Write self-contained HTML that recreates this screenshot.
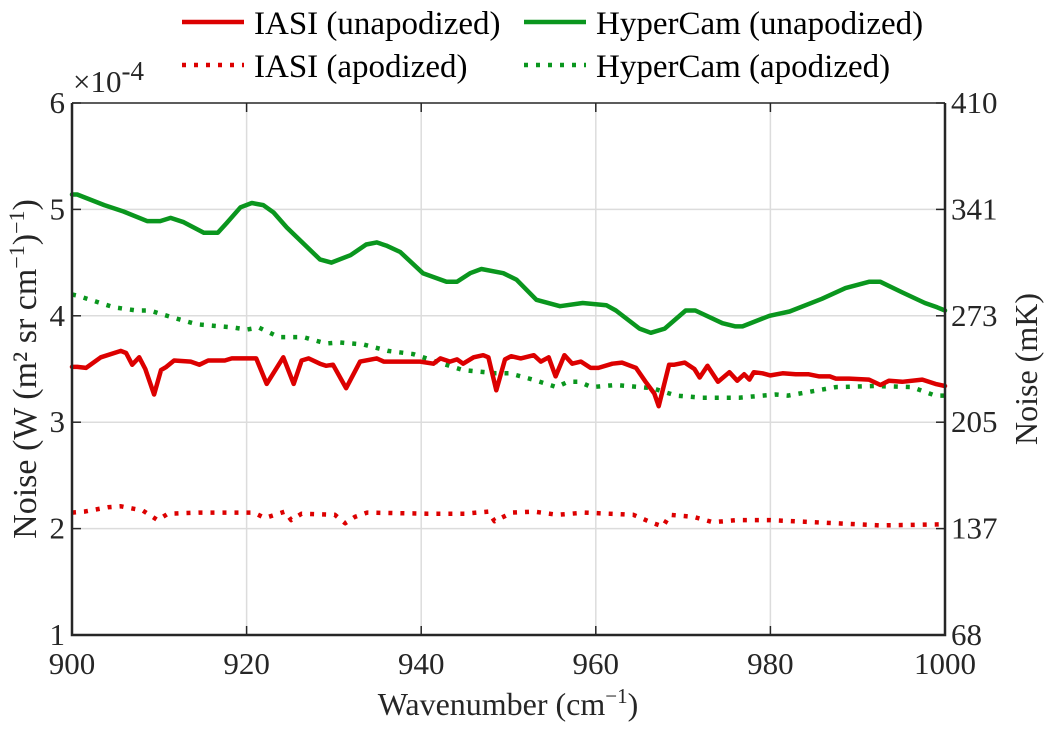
<!DOCTYPE html>
<html><head><meta charset="utf-8"><style>
html,body{margin:0;padding:0;background:#fff;}
svg{display:block;font-family:"Liberation Serif","DejaVu Serif",serif;}
</style></head><body>
<svg id="chart" width="1053" height="731" xmlns="http://www.w3.org/2000/svg">
<g id="grid"></g>
<g id="series"></g>
<g id="axes"></g>
<g id="legend"></g>
</svg>
<script>
const xTicks = [900, 920, 940, 960, 980, 1000];
const yTicks = [1, 2, 3, 4, 5, 6];
const yRightLabels = ["68", "137", "205", "273", "341", "410"];
const iasiUnapX = [900,900.6,901.6,903.3,905.6,906.2,906.9,907.7,908.4,909.4,910.2,910.8,911.7,913.6,914.6,915.6,917.5,918.3,921.1,922.3,924.2,925.4,926.3,927.1,928.4,929.1,929.9,931.4,933,934.9,935.7,937.2,939.9,941.4,942.2,943.3,944.1,944.8,946,947.1,947.7,948.6,949.6,950.3,951.4,952.9,953.7,954.6,955.4,956.4,957.3,958.3,959.4,960.3,961.9,963,964.6,965.7,966.7,967.2,968.4,969,970.2,971.3,971.9,972.8,974,975.3,976.2,977,977.6,978.1,979.1,980,981.4,982.9,984.4,985.6,986.8,987.5,989,991.3,992.6,993.6,995.1,997.4,998.9,1000];
const iasiUnapY = [3.52,3.52,3.51,3.61,3.67,3.65,3.54,3.61,3.50,3.26,3.49,3.52,3.58,3.57,3.54,3.58,3.58,3.60,3.60,3.36,3.61,3.36,3.58,3.60,3.55,3.53,3.54,3.32,3.57,3.60,3.57,3.57,3.57,3.55,3.60,3.57,3.59,3.55,3.61,3.63,3.61,3.30,3.59,3.62,3.60,3.63,3.57,3.61,3.43,3.63,3.55,3.57,3.51,3.51,3.55,3.56,3.51,3.38,3.27,3.15,3.54,3.54,3.56,3.50,3.42,3.53,3.38,3.47,3.39,3.45,3.40,3.47,3.46,3.44,3.46,3.45,3.45,3.43,3.43,3.41,3.41,3.40,3.35,3.39,3.38,3.40,3.36,3.34];
const iasiApX = [900,901.4,904.1,905.6,908.1,909.8,911,914.5,920.8,922.1,924.4,925.1,926.3,930.1,931.3,932.4,933.8,940.8,945,947.7,948.4,950.4,952.9,955.6,958.7,964.3,966.6,967.7,968.5,971.2,973.4,976.2,980,987.6,992.6,1000];
const iasiApY = [2.15,2.16,2.20,2.21,2.17,2.08,2.14,2.15,2.15,2.10,2.16,2.08,2.14,2.13,2.05,2.11,2.15,2.14,2.14,2.16,2.07,2.15,2.16,2.13,2.15,2.13,2.05,2.02,2.13,2.11,2.06,2.08,2.08,2.05,2.03,2.04];
const hcUnapX = [900,900.6,903.7,905.9,908.6,910.1,911.3,912.8,915.1,916.7,917.7,919.3,920.6,921.9,923.1,924.6,928.4,929.7,931.9,933.7,934.9,936,937.6,940.2,942.9,944.1,945.6,946.9,949.4,950.9,953.2,955.9,958.5,961.2,962.3,965,966.3,967.9,970.3,971.4,974.5,976,976.8,979.9,982.2,985.9,988.6,991.3,992.6,995.1,997.7,999.1,1000];
const hcUnapY = [5.14,5.14,5.04,4.98,4.89,4.89,4.92,4.88,4.78,4.78,4.87,5.02,5.06,5.04,4.97,4.83,4.53,4.50,4.57,4.67,4.69,4.66,4.60,4.40,4.32,4.32,4.40,4.44,4.40,4.34,4.15,4.09,4.12,4.10,4.05,3.88,3.84,3.88,4.05,4.05,3.93,3.90,3.90,4.00,4.04,4.16,4.26,4.32,4.32,4.22,4.12,4.08,4.05];
const hcApX = [900,900.6,904.8,907.4,908.9,911.7,914.3,918.5,920,921.4,923.7,926.5,929.1,930.6,933.4,936.2,939.1,941.7,944.8,948.6,950.1,952.8,955.5,956.8,958.1,959.5,962.3,966.5,969.2,972.2,976.4,980.6,982,984.8,987.5,992,996.2,998.9,1000];
const hcApY = [4.20,4.19,4.08,4.05,4.05,3.98,3.92,3.89,3.87,3.89,3.80,3.80,3.74,3.75,3.73,3.67,3.64,3.57,3.49,3.46,3.46,3.40,3.33,3.38,3.38,3.33,3.35,3.32,3.25,3.23,3.23,3.26,3.25,3.29,3.33,3.34,3.33,3.25,3.25];

const NS = "http://www.w3.org/2000/svg";
const X0 = 72, X1 = 945, Y0 = 635, Y1 = 103;
const xs = v => X0 + (v - 900) / 100 * (X1 - X0);
const ys = v => Y0 - (v - 1) / 5 * (Y0 - Y1);
function mk(tag, attrs, parent, text) {
  const e = document.createElementNS(NS, tag);
  for (const k in attrs) e.setAttribute(k, attrs[k]);
  if (text !== undefined) e.textContent = text;
  parent.appendChild(e);
  return e;
}
const grid = document.getElementById('grid');
const axes = document.getElementById('axes');
const series = document.getElementById('series');
const legend = document.getElementById('legend');

xTicks.forEach(t => {
  const x = xs(t);
  if (t !== 900 && t !== 1000) {
    const g = mk('line', {x1:x, x2:x, y1:Y1, y2:Y0, stroke:'#dcdcdc', 'stroke-width':1.5}, grid);
    
    
  }
  mk('line', {x1:x, x2:x, y1:Y0, y2:Y0-9, stroke:'#262626', 'stroke-width':1.5}, axes);
  mk('line', {x1:x, x2:x, y1:Y1, y2:Y1+9, stroke:'#262626', 'stroke-width':1.5}, axes);
  const l = mk('text', {x:x, y:674, 'font-size':31, 'text-anchor':'middle', fill:'#262626'}, axes, t);
  
  
});
yTicks.forEach((t, i) => {
  const y = ys(t);
  if (t !== 1 && t !== 6) {
    const g = mk('line', {x1:X0, x2:X1, y1:y, y2:y, stroke:'#dcdcdc', 'stroke-width':1.5}, grid);
    
    
  }
  mk('line', {x1:X0, x2:X0+9, y1:y, y2:y, stroke:'#262626', 'stroke-width':1.5}, axes);
  mk('line', {x1:X1, x2:X1-9, y1:y, y2:y, stroke:'#262626', 'stroke-width':1.5}, axes);
  const l = mk('text', {x:X0-7, y:y+10, 'font-size':31, 'text-anchor':'end', fill:'#262626'}, axes, t);
  
  
  const r = mk('text', {x:X1+6, y:y+10, 'font-size':31, 'text-anchor':'start', fill:'#262626'}, axes, yRightLabels[i]);
  
  
});
const box = mk('path', {d:`M${X0},${Y1} V${Y0} H${X1} V${Y1}`, fill:'none', stroke:'#262626', 'stroke-width':2.5}, axes);


mk('line', {x1:X0, x2:X1, y1:Y1, y2:Y1, stroke:'#262626', 'stroke-width':1.5}, axes);

function drawLine(xArr, yArr, color, dotted, name) {
  const d = xArr.map((v, i) => (i ? 'L' : 'M') + xs(v).toFixed(1) + ',' + ys(yArr[i]).toFixed(1)).join(' ');
  const attrs = {d:d, fill:'none', stroke:color, 'stroke-width':4.5, 'stroke-linejoin':'round', 'stroke-linecap':'round'};
  if (dotted) { attrs['stroke-dasharray'] = '4 8'; attrs['stroke-linecap'] = 'butt'; }
  const p = mk('path', attrs, series);
  
  
}
drawLine(hcApX, hcApY, '#0a961e', true, 'hypercam-apodized-line');
drawLine(iasiApX, iasiApY, '#dc0000', true, 'iasi-apodized-line');
drawLine(hcUnapX, hcUnapY, '#0a961e', false, 'hypercam-unapodized-line');
drawLine(iasiUnapX, iasiUnapY, '#dc0000', false, 'iasi-unapodized-line');

const exp = mk('text', {x:73, y:92, 'font-size':31, fill:'#262626'}, axes);


exp.innerHTML = '×10<tspan dy="-12" font-size="27">-4</tspan>';
const yt = mk('text', {transform:'translate(36,369) rotate(-90)', 'font-size':34, 'text-anchor':'middle', fill:'#262626'}, axes);


yt.innerHTML = 'Noise (W (m² sr cm<tspan dy="-12" font-size="22">−1</tspan><tspan dy="12">)</tspan><tspan dy="-12" font-size="22">−1</tspan><tspan dy="12">)</tspan>';
const yr = mk('text', {transform:'translate(1037,369) rotate(-90)', 'font-size':32, 'text-anchor':'middle', fill:'#262626'}, axes, 'Noise (mK)');


const xt = mk('text', {x:508, y:715, 'font-size':32, 'text-anchor':'middle', fill:'#262626'}, axes);


xt.innerHTML = 'Wavenumber (cm<tspan dy="-12" font-size="21">−1</tspan><tspan dy="12">)</tspan>';

const items = [
  {x:182, y:25, c:'#dc0000', dot:false, t:'IASI (unapodized)', n:'legend-iasi-unapodized'},
  {x:182, y:68, c:'#dc0000', dot:true, t:'IASI (apodized)', n:'legend-iasi-apodized'},
  {x:524, y:25, c:'#0a961e', dot:false, t:'HyperCam (unapodized)', n:'legend-hypercam-unapodized'},
  {x:524, y:68, c:'#0a961e', dot:true, t:'HyperCam (apodized)', n:'legend-hypercam-apodized'}
];
items.forEach(it => {
  const g = mk('g', {}, legend);
  
  
  const a = {x1:it.x, x2:it.x+62, y1:it.y-3, y2:it.y-3, stroke:it.c, 'stroke-width':4.5};
  if (it.dot) a['stroke-dasharray'] = '4 8';
  mk('line', a, g);
  mk('text', {x:it.x+72, y:it.y+9, 'font-size':33, fill:'#000'}, g, it.t);
});
</script>
</body></html>
